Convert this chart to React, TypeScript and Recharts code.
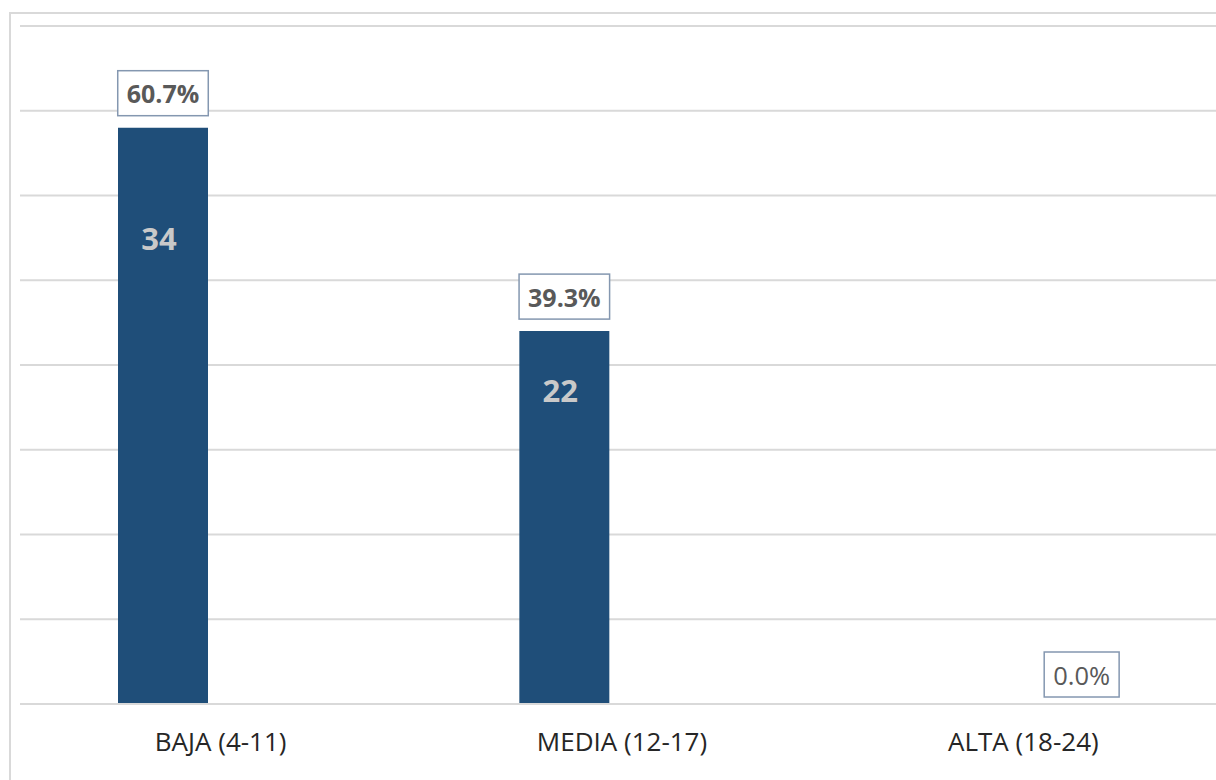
import { BarChart, Bar, XAxis, YAxis, CartesianGrid, LabelList } from 'recharts';

const categories = ['BAJA (4-11)', 'MEDIA (12-17)', 'ALTA (18-24)'];
const counts = [34, 22, 0];
const shares = [60.7, 39.3, 0.0];
const countTicks = [0, 5, 10, 15, 20, 25, 30, 35, 40];

const data = categories.map((name, i) => ({ name, count: counts[i], share: shares[i] }));

// how far below the top of each bar its count sits
const COUNT_LABEL_DROP = [110, 59, 0];

const FONT = '"Open Sans", "Noto Sans", sans-serif';
const BAR_BLUE = '#1f4e79';
const GRID = '#d9d9d9';
const BOX_STROKE = '#8497b0';

let measureCtx: CanvasRenderingContext2D | null = null;
const textWidth = (text: string, size: number, weight: number) => {
  if (!measureCtx) measureCtx = document.createElement('canvas').getContext('2d');
  if (!measureCtx) return text.length * size * 0.6;
  measureCtx.font = `${weight} ${size}px ${FONT}`;
  return measureCtx.measureText(text).width;
};

const ShareBox = ({ cx, bottom, value, bold }: { cx: number; bottom: number; value: number; bold: boolean }) => {
  const text = `${value.toFixed(1)}%`;
  const size = bold ? 25 : 25.5;
  const weight = bold ? 700 : 400;
  const w = textWidth(text, size, weight) + 18;
  const h = 45;
  return (
    <g>
      <rect x={cx - w / 2} y={bottom - h} width={w} height={h} fill="#fff" stroke={BOX_STROKE} strokeWidth={1.5} />
      <text
        x={cx}
        y={bottom - h / 2}
        textAnchor="middle"
        dominantBaseline="central"
        fontFamily={FONT}
        fontSize={size}
        fontWeight={weight}
        fill="#595959"
      >
        {text}
      </text>
    </g>
  );
};

const CategoryTick = ({ x, y, payload }: any) => (
  <text x={x} y={y + 47} textAnchor="middle" fontFamily={FONT} fontSize={26} fill="#262626">
    {payload.value}
  </text>
);

export default function App() {
  return (
    <div style={{ position: 'absolute', left: 0, top: 0, width: 1216, height: 780, overflow: 'hidden', background: '#fff' }}>
      <div
        style={{
          position: 'absolute',
          left: 9,
          top: 12,
          width: 1400,
          height: 1000,
          border: `2px solid ${GRID}`,
          pointerEvents: 'none',
        }}
      />
      <div style={{ position: 'absolute', left: 0, top: 0 }}>
        <BarChart
          width={1232}
          height={780}
          data={data}
          margin={{ top: 26, right: 8, bottom: 16, left: 20 }}
          barSize={90}
          barGap={26}
        >
          <CartesianGrid vertical={false} stroke={GRID} strokeWidth={2} />
          <XAxis
            dataKey="name"
            axisLine={{ stroke: GRID, strokeWidth: 2 }}
            tickLine={false}
            tickSize={0}
            tickMargin={0}
            height={60}
            tick={<CategoryTick />}
            interval={0}
          />
          <YAxis
            domain={[0, 40]}
            ticks={countTicks}
            width={0}
            tickFormatter={() => ''}
            axisLine={false}
            tickLine={false}
          />
          <YAxis yAxisId="pct" hide domain={[0, 100]} />
          <Bar dataKey="count" fill={BAR_BLUE} isAnimationActive={false}>
            <LabelList
              dataKey="count"
              content={(p: any) => {
                if (!p.value) return null;
                return (
                  <text
                    x={p.x + p.width / 2 - 4}
                    y={p.y + COUNT_LABEL_DROP[p.index]}
                    textAnchor="middle"
                    dominantBaseline="central"
                    fontFamily={FONT}
                    fontSize={31}
                    fontWeight={700}
                    fill="#c9c9c9"
                  >
                    {p.value}
                  </text>
                );
              }}
            />
            <LabelList
              dataKey="share"
              content={(p: any) => {
                if (!p.value) return null;
                return <ShareBox cx={p.x + p.width / 2} bottom={p.y - 12} value={p.value} bold />;
              }}
            />
          </Bar>
          {/* share series is invisible; only its zero label shows, beside the empty category */}
          <Bar yAxisId="pct" dataKey="share" fill="transparent" minPointSize={1} isAnimationActive={false}>
            <LabelList
              dataKey="share"
              content={(p: any) => {
                if (p.value !== 0) return null;
                return <ShareBox cx={p.x + p.width / 2} bottom={p.y + p.height - 7} value={p.value} bold={false} />;
              }}
            />
          </Bar>
        </BarChart>
      </div>
    </div>
  );
}
